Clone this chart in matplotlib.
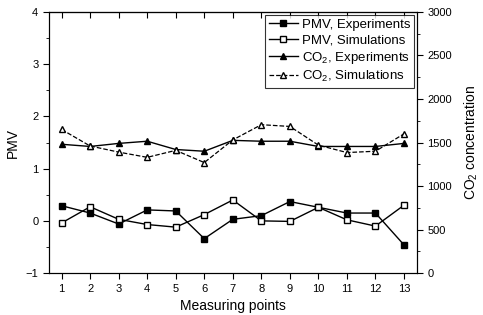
import matplotlib.pyplot as plt

plt.rcParams['font.family'] = ['Liberation Sans', 'DejaVu Sans']
plt.rcParams['mathtext.default'] = 'regular'

points = [1, 2, 3, 4, 5, 6, 7, 8, 9, 10, 11, 12, 13]
pmv_exp = [0.29, 0.15, -0.06, 0.21, 0.19, -0.34, 0.03, 0.10, 0.37, 0.26, 0.15, 0.15, -0.46]
pmv_sim = [-0.04, 0.27, 0.03, -0.07, -0.12, 0.12, 0.40, 0.00, -0.01, 0.26, 0.02, -0.10, 0.30]
co2_exp = [1480, 1455, 1490, 1515, 1420, 1400, 1525, 1515, 1515, 1455, 1455, 1455, 1490]
co2_sim = [1650, 1460, 1390, 1330, 1410, 1270, 1530, 1705, 1685, 1470, 1385, 1400, 1600]

fig = plt.figure(figsize=(4.83, 3.15), dpi=100)
ax = fig.add_axes([0.101, 0.133, 0.762, 0.829])
ax2 = ax.twinx()

l1, = ax.plot(points, pmv_exp, '-', color='black', lw=1, marker='s', ms=4.5,
              mfc='black', mec='black', label='PMV, Experiments')
l2, = ax.plot(points, pmv_sim, '-', color='black', lw=1, marker='s', ms=4.5,
              mfc='white', mec='black', label='PMV, Simulations')
l3, = ax2.plot(points, co2_exp, '-', color='black', lw=1, marker='^', ms=5,
               mfc='black', mec='black', label='CO$_2$, Experiments')
l4, = ax2.plot(points, co2_sim, '--', color='black', lw=0.9, marker='^', ms=5,
               mfc='white', mec='black', label='CO$_2$, Simulations')

ax.set_xlim(0.55, 13.45)
ax.set_ylim(-1, 4)
ax2.set_ylim(0, 3000)
ax.set_xticks(points)
ax.set_yticks([-1, 0, 1, 2, 3, 4])
ax.set_yticks([-0.5, 0.5, 1.5, 2.5, 3.5], minor=True)
ax2.set_yticks([0, 500, 1000, 1500, 2000, 2500, 3000])
ax2.set_yticks([250, 750, 1250, 1750, 2250, 2750], minor=True)

# top ticks point inward, the rest outward
top = ax.secondary_xaxis('top')
top.set_xticks(points)
top.tick_params(direction='in', length=4, labeltop=False)

ax.tick_params(axis='x', direction='out', labelsize=8, length=4)
ax.tick_params(axis='y', which='major', direction='out', labelsize=8, length=4)
ax.tick_params(axis='y', which='minor', direction='out', length=2)
ax2.tick_params(axis='y', which='major', direction='out', labelsize=8, length=4)
ax2.tick_params(axis='y', which='minor', direction='out', length=2)

ax.set_xlabel('Measuring points', fontsize=10, labelpad=4)
ax.set_ylabel('PMV', fontsize=10)
ax2.set_ylabel('CO$_2$ concentration', fontsize=10, labelpad=8)

leg = ax2.legend(handles=[l1, l2, l3, l4], loc='upper right', fontsize=9.5,
                 frameon=True, fancybox=False, edgecolor='black',
                 borderaxespad=0.2, handlelength=2.2, handletextpad=0.3,
                 labelspacing=0.25, borderpad=0.3)
leg.get_frame().set_linewidth(0.8)

fig.savefig('out.png', dpi=100)
